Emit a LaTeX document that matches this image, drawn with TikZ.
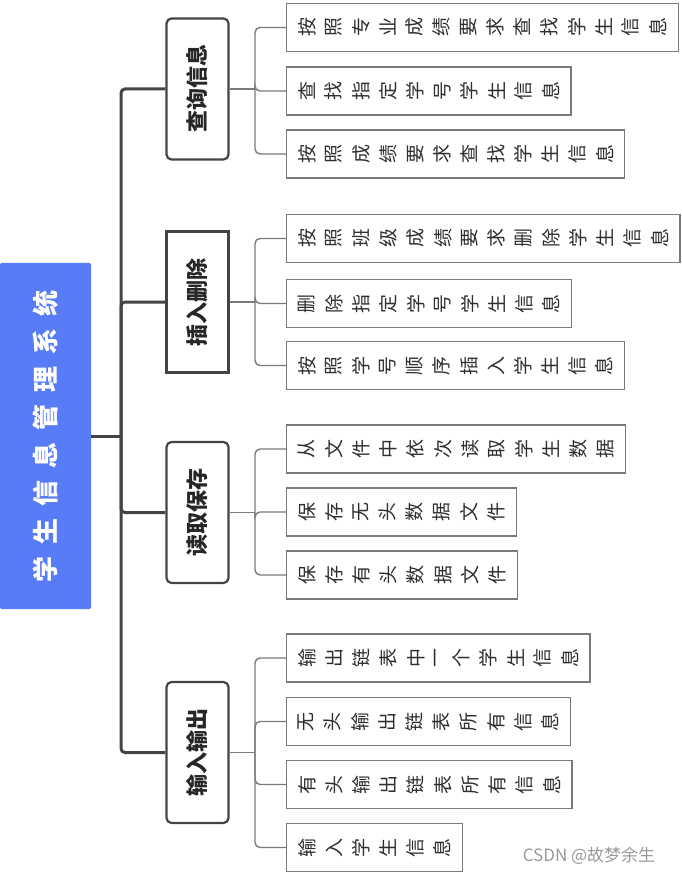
\documentclass[tikz,border=0pt]{standalone}
\usepackage{fontspec}
\setmainfont{Noto Sans CJK SC}
\usepackage{graphicx}
\usepackage{tikz}
\definecolor{SysBlue}{HTML}{587CF7}
\definecolor{SysDark}{HTML}{444444}
\definecolor{SysLine}{HTML}{7A7A7A}
\definecolor{SysText}{HTML}{2E2E2E}
\makeatletter
% a row of characters with a gap between them
\newcommand\charrow[2]{%
  \def\sm@sep{}\@tfor\sm@ch:=#2\do{\sm@sep\sm@ch\def\sm@sep{\hspace{#1}}}}
% the same, every character turned by 90 degrees
\newcommand\turnedrow[2]{%
  \def\sm@sep{}\@tfor\sm@ch:=#2\do{\sm@sep\rotatebox{90}{\sm@ch}\def\sm@sep{\hspace{#1}}}}
\makeatother
\tikzset{
  smroot/.style={
    fill=SysBlue,
    rounded corners=1.5pt,
    text=white,
    font=\fontsize{26}{26}\selectfont\bfseries,
    minimum width=91,
    minimum height=346,
    inner sep=0pt
  },
  smbranch/.style={
    draw=SysDark,
    fill=white,
    line width=2.2pt,
    rounded corners=5pt,
    text=black!85,
    font=\fontsize{22}{22}\selectfont\bfseries,
    minimum width=62,
    minimum height=141,
    inner sep=0pt
  },
  smleaf/.style={
    draw=SysLine,
    fill=white,
    line width=1.3pt,
    text=SysText,
    font=\fontsize{19}{19}\selectfont,
    minimum height=48,
    inner xsep=11.5pt,
    inner ysep=0pt,
    anchor=west
  },
  smtrunk/.style={draw=SysDark, line width=3pt, rounded corners=4pt},
  smtwig/.style={draw=SysLine, line width=1.4pt, rounded corners=5pt}
}
\begin{document}
\begin{tikzpicture}[x=1pt, y=-1pt]
  \useasboundingbox (0,0) rectangle (681,874);
  \node[smroot] (root) at (45.5,436) {\rotatebox{90}{\charrow{12pt}{学生信息管理系统}}};
  % branches
  \node[smbranch] (query) at (197.5,89) {\rotatebox{90}{查询信息}};
  \node[smbranch, sharp corners] (edit) at (197.5,302) {\rotatebox{90}{插入删除}};
  \node[smbranch] (file) at (197.5,512.5) {\rotatebox{90}{读取保存}};
  \node[smbranch] (io) at (197.5,752.5) {\rotatebox{90}{输入输出}};
  % leaves
  \node[smleaf] (q1) at (286,27.5) {\turnedrow{9.8pt}{按照专业成绩要求查找学生信息}};
  \node[smleaf] (q2) at (286,91) {\turnedrow{9.8pt}{查找指定学号学生信息}};
  \node[smleaf] (q3) at (286,154) {\turnedrow{9.8pt}{按照成绩要求查找学生信息}};
  \node[smleaf] (e1) at (286,238.5) {\turnedrow{9.8pt}{按照班级成绩要求删除学生信息}};
  \node[smleaf] (e2) at (286,303.5) {\turnedrow{9.8pt}{删除指定学号学生信息}};
  \node[smleaf] (e3) at (286,365.5) {\turnedrow{9.8pt}{按照学号顺序插入学生信息}};
  \node[smleaf] (f1) at (286,449) {\turnedrow{9.8pt}{从文件中依次读取学生数据}};
  \node[smleaf] (f2) at (286,512) {\turnedrow{9.8pt}{保存无头数据文件}};
  \node[smleaf] (f3) at (286,575) {\turnedrow{9.8pt}{保存有头数据文件}};
  \node[smleaf] (o1) at (286,658) {\turnedrow{9.8pt}{输出链表中一个学生信息}};
  \node[smleaf] (o2) at (286,721.5) {\turnedrow{9.8pt}{无头输出链表所有信息}};
  \node[smleaf] (o3) at (286,784.5) {\turnedrow{9.8pt}{有头输出链表所有信息}};
  \node[smleaf] (o4) at (286,847.5) {\turnedrow{9.8pt}{输入学生信息}};
  \node[text=black!40, font=\fontsize{17}{17}\selectfont] (mark) at (589,856) {CSDN @故梦余生};
  % trunk
  \coordinate (hub) at (121,436);
  \draw[smtrunk] (root.east) -- (hub);
  \foreach \b in {query,edit,file,io}
    \draw[smtrunk] (hub) |- (\b.west);
  % twigs
  \coordinate (qj) at (255,89);
  \coordinate (ej) at (255,302);
  \coordinate (fj) at (255,512.5);
  \coordinate (oj) at (255,752.5);
  \draw[smtwig] (query.east) -- (qj);
  \draw[smtwig] (edit.east) -- (ej);
  \draw[smtwig] (file.east) -- (fj);
  \draw[smtwig] (io.east) -- (oj);
  \foreach \l in {q1,q2,q3}
    \draw[smtwig] (qj) |- (\l.west);
  \foreach \l in {e1,e2,e3}
    \draw[smtwig] (ej) |- (\l.west);
  \foreach \l in {f1,f2,f3}
    \draw[smtwig] (fj) |- (\l.west);
  \foreach \l in {o1,o2,o3,o4}
    \draw[smtwig] (oj) |- (\l.west);
\end{tikzpicture}
\end{document}
